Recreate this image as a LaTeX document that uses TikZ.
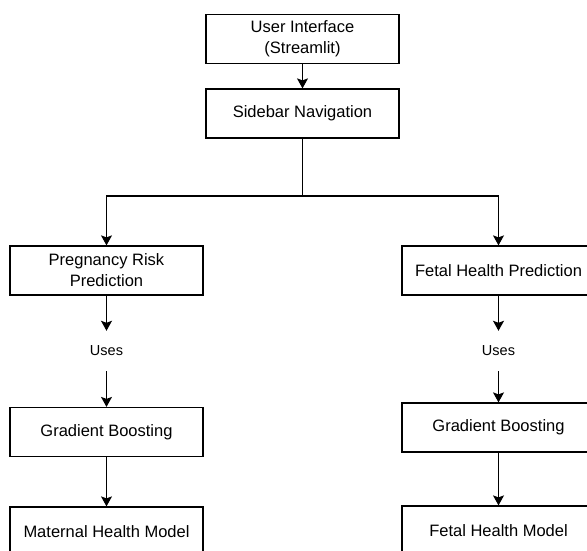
\documentclass[tikz,border=0pt]{standalone}
\usepackage{fontspec}
\setmainfont{Liberation Sans}
\usetikzlibrary{arrows.meta}

\tikzset{
	block/.style={draw,line width=1.2pt,minimum width=193pt,minimum height=49pt,inner sep=0pt,
		align=center,font=\fontsize{16.5}{21}\selectfont},
	uselabel/.style={minimum height=40pt,inner sep=0pt,font=\fontsize{14.5}{17}\selectfont},
	link/.style={line width=1.2pt,-{Stealth[length=10pt,width=11pt,inset=2pt]}}
}

\begin{document}
\begin{tikzpicture}[x=1pt,y=-1pt]
	 \useasboundingbox (0,0) rectangle (587,551);
	 \clip (0,0) rectangle (587,551);

	 \node[block](ui) at (302.5,39){User Interface\\(Streamlit)};
	 \node[block](nav) at (302.5,113.5){Sidebar Navigation};
	 \coordinate (split) at (302.5,196);

	 \node[block](preg) at (106.5,270.5){Pregnancy Risk\\Prediction};
	 \node[uselabel](usesl) at (106.5,351){Uses};
	 \node[block](gbl) at (106.5,432){Gradient Boosting};
	 \node[block](mat) at (106.5,531.5){Maternal Health Model};

	 \node[block](fetal) at (498.5,270.5){Fetal Health Prediction};
	 \node[uselabel](usesr) at (498.5,351){Uses};
	 \node[block](gbr) at (498.5,427.5){Gradient Boosting};
	 \node[block](fhm) at (498.5,530.5){Fetal Health Model};

	 \draw[link](ui) -- (nav);
	 \draw[line width=1.2pt](nav) -- (split);
	 \draw[link](split) -| (preg);
	 \draw[link](split) -| (fetal);

	 \draw[link](preg) -- (usesl);
	 \draw[link](usesl) -- (gbl);
	 \draw[link](gbl) -- (mat);

	 \draw[link](fetal) -- (usesr);
	 \draw[link](usesr) -- (gbr);
	 \draw[link](gbr) -- (fhm);

\end{tikzpicture}
\end{document}
